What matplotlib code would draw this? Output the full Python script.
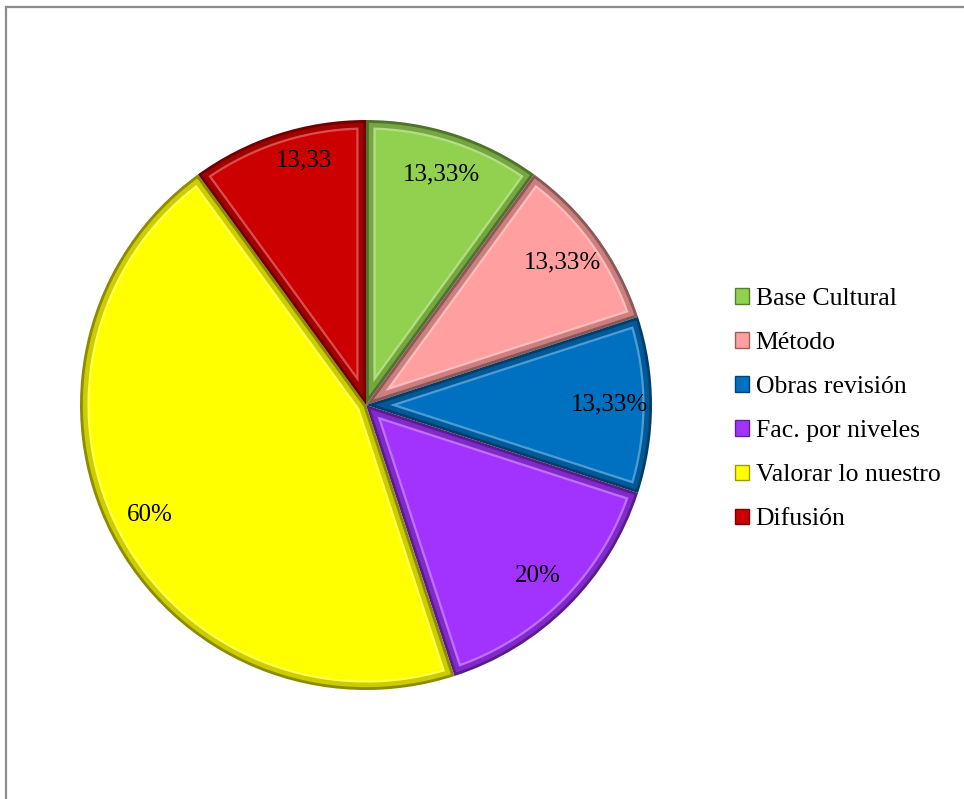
import matplotlib.pyplot as plt
import matplotlib.colors as mcolors
from matplotlib.patches import Polygon, Rectangle
import numpy as np

# datos del gráfico
categorias = ['Base Cultural', 'Método', 'Obras revisión', 'Fac. por niveles',
              'Valorar lo nuestro', 'Difusión']
valores = [13.33, 13.33, 13.33, 20, 60, 13.33]
etiquetas = ['13,33%', '13,33%', '13,33%', '20%', '60%', '13,33']
colores = ['#92D050', '#FF9F9F', '#0070C0', '#A233FF', '#FFFF00', '#CC0000']

plt.rcParams['font.family'] = ['Liberation Serif', 'DejaVu Serif']

fig = plt.figure(figsize=(9.64, 7.99), dpi=100)

# marco gris del área del gráfico (solo se ven arriba e izquierda)
fig.patches.append(Rectangle((6 / 964, -0.1), 1.2, 1 - 7 / 799 + 0.1,
                             transform=fig.transFigure, fill=False,
                             edgecolor='#8c8c8c', linewidth=1.6))

ax = fig.add_axes([80 / 964, 109 / 799, 572 / 964, 570 / 799])

def sombra(c, f):
    r, g, b = mcolors.to_rgb(c)
    return (min(r * f, 1), min(g * f, 1), min(b * f, 1))

def aclarar(c, f):
    r, g, b = mcolors.to_rgb(c)
    return (r + (1 - r) * f, g + (1 - g) * f, b + (1 - b) * f)

oscuros = [sombra(c, 0.55) for c in colores]
wedges, textos = ax.pie(valores, colors=oscuros, startangle=90, counterclock=False,
                        labels=etiquetas, labeldistance=0.85, radius=1,
                        textprops={'fontsize': 18, 'ha': 'center', 'va': 'center'})

def cuna_interior(t1, t2, d):
    # sector reducido: lados radiales desplazados d hacia dentro y arco a radio 1-d
    R = 1 - d
    mitad = np.radians((t2 - t1) / 2)
    medio = np.radians((t1 + t2) / 2)
    s = d / np.sin(mitad)
    da = np.arcsin(d / R)
    ang = np.linspace(np.radians(t1) + da, np.radians(t2) - da, 120)
    pts = [(s * np.cos(medio), s * np.sin(medio))]
    pts += list(zip(R * np.cos(ang), R * np.sin(ang)))
    return pts

# relieve: banda media, brillo fino y cara principal
for w, c in zip(wedges, colores):
    ax.add_patch(Polygon(cuna_interior(w.theta1, w.theta2, 0.010),
                         facecolor=sombra(c, 0.8), edgecolor='none', zorder=2))
    ax.add_patch(Polygon(cuna_interior(w.theta1, w.theta2, 0.026),
                         facecolor=aclarar(c, 0.3), edgecolor='none', zorder=3))
    ax.add_patch(Polygon(cuna_interior(w.theta1, w.theta2, 0.034),
                         facecolor=c, edgecolor='none', zorder=4))

for t in textos:
    t.set_zorder(5)
# la etiqueta de Difusión queda algo más arriba y a la derecha
x, y = textos[5].get_position()
textos[5].set_position((x + 0.045, y + 0.05))

ax.set_xlim(-1, 1)
ax.set_ylim(-1, 1)
ax.set_aspect('auto')

leyenda = fig.legend(wedges, categorias, loc='upper left',
                     bbox_to_anchor=(735 / 964, 1 - 288 / 799), frameon=False,
                     fontsize=18.5, handlelength=0.55, handleheight=0.55,
                     handletextpad=0.25, labelspacing=0.86,
                     borderpad=0, borderaxespad=0)
for h, c in zip(leyenda.legend_handles, colores):
    h.set_facecolor(c)
    h.set_edgecolor(sombra(c, 0.6))

fig.savefig('out.png', dpi=100, facecolor='white')
